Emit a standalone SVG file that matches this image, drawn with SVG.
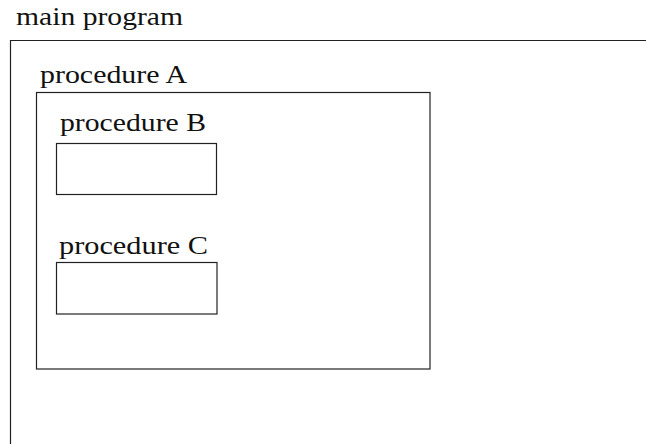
<svg xmlns="http://www.w3.org/2000/svg" width="646" height="444" viewBox="0 0 646 444">
<style>
.box{fill:none;stroke:#222;stroke-width:1.2}
.lbl{font-family:"Liberation Serif","Times New Roman",serif;font-size:25px;fill:#111}
</style>
<rect width="646" height="444" fill="#fff"/>
<g id="main">
<text class="lbl" x="16" y="25" textLength="167" lengthAdjust="spacingAndGlyphs">main program</text>
<path class="box" d="M10.5 444V40.5H646"/>
</g>
<g id="procA">
<text class="lbl" x="40" y="83" textLength="147" lengthAdjust="spacingAndGlyphs">procedure A</text>
<rect class="box" x="36.5" y="92.5" width="393.5" height="276.5"/>
</g>
<g id="procB">
<text class="lbl" x="60" y="131" textLength="146" lengthAdjust="spacingAndGlyphs">procedure B</text>
<rect class="box" x="56.5" y="143.5" width="160" height="51"/>
</g>
<g id="procC">
<text class="lbl" x="59" y="254" textLength="149" lengthAdjust="spacingAndGlyphs">procedure C</text>
<rect class="box" x="56.5" y="262.5" width="160.5" height="51.5"/>
</g>
<g id="connectors"></g>
</svg>
